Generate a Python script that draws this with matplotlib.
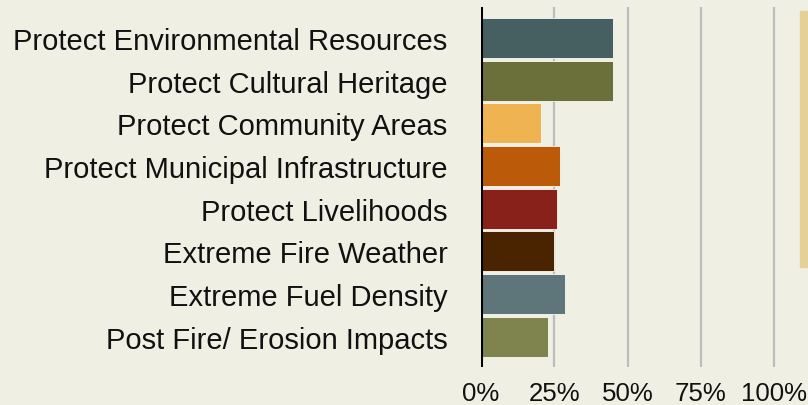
import matplotlib
matplotlib.use("Agg")
import matplotlib.pyplot as plt
from matplotlib.patches import Rectangle

categories = [
    "Protect Environmental Resources",
    "Protect Cultural Heritage",
    "Protect Community Areas",
    "Protect Municipal Infrastructure",
    "Protect Livelihoods",
    "Extreme Fire Weather",
    "Extreme Fuel Density",
    "Post Fire/ Erosion Impacts",
]
values = [45, 45, 20.5, 27, 26, 25, 28.6, 23]
colors = ["#465f60", "#6b6f3a", "#f0b352", "#bb5a09", "#89211b",
          "#4a2300", "#5e7579", "#7f834d"]
ticks = [0, 25, 50, 75, 100]
tick_labels = ["0%", "25%", "50%", "75%", "100%"]

bg = "#f0efe4"
plt.rcParams["font.family"] = ["Liberation Sans", "DejaVu Sans"]

W, H = 808, 406
fig = plt.figure(figsize=(W / 100, H / 100), dpi=100, facecolor=bg)
x0, x1 = 481, 800
y_top, y_bot = 8, 368
ax = fig.add_axes([x0 / W, 1 - y_bot / H, (x1 - x0) / W, (y_bot - y_top) / H])
ax.set_facecolor(bg)

pos = list(range(len(categories)))
ax.barh(pos, values, height=0.94, color=colors, edgecolor="#fafaf4",
        linewidth=0.6, zorder=3)
px_per_pct = (774 - 481) / 100
ax.set_xlim(0, (x1 - x0) / px_per_pct)
ax.set_ylim(len(categories) - 1 + 0.71, -0.73)

for t in ticks[1:]:
    ax.axvline(t, color="#bdbdbd", linewidth=1.6, zorder=1)
ax.axvline(0, color="black", linewidth=2.2, zorder=4)

for s in ax.spines.values():
    s.set_visible(False)
ax.set_yticks(pos)
ax.set_yticklabels(categories, fontsize=21, color="#111111")
ax.set_xticks(ticks)
ax.set_xticklabels(tick_labels, fontsize=18.6, color="#111111")
ax.tick_params(axis="y", length=0, pad=24)
ax.tick_params(axis="x", length=0, pad=10)

fig.patches.append(Rectangle((800 / W, 1 - 268 / H), 10 / W, (268 - 12) / H,
                             transform=fig.transFigure, color="#e5d195",
                             zorder=0))

fig.savefig("out.png", dpi=100, facecolor=bg)
